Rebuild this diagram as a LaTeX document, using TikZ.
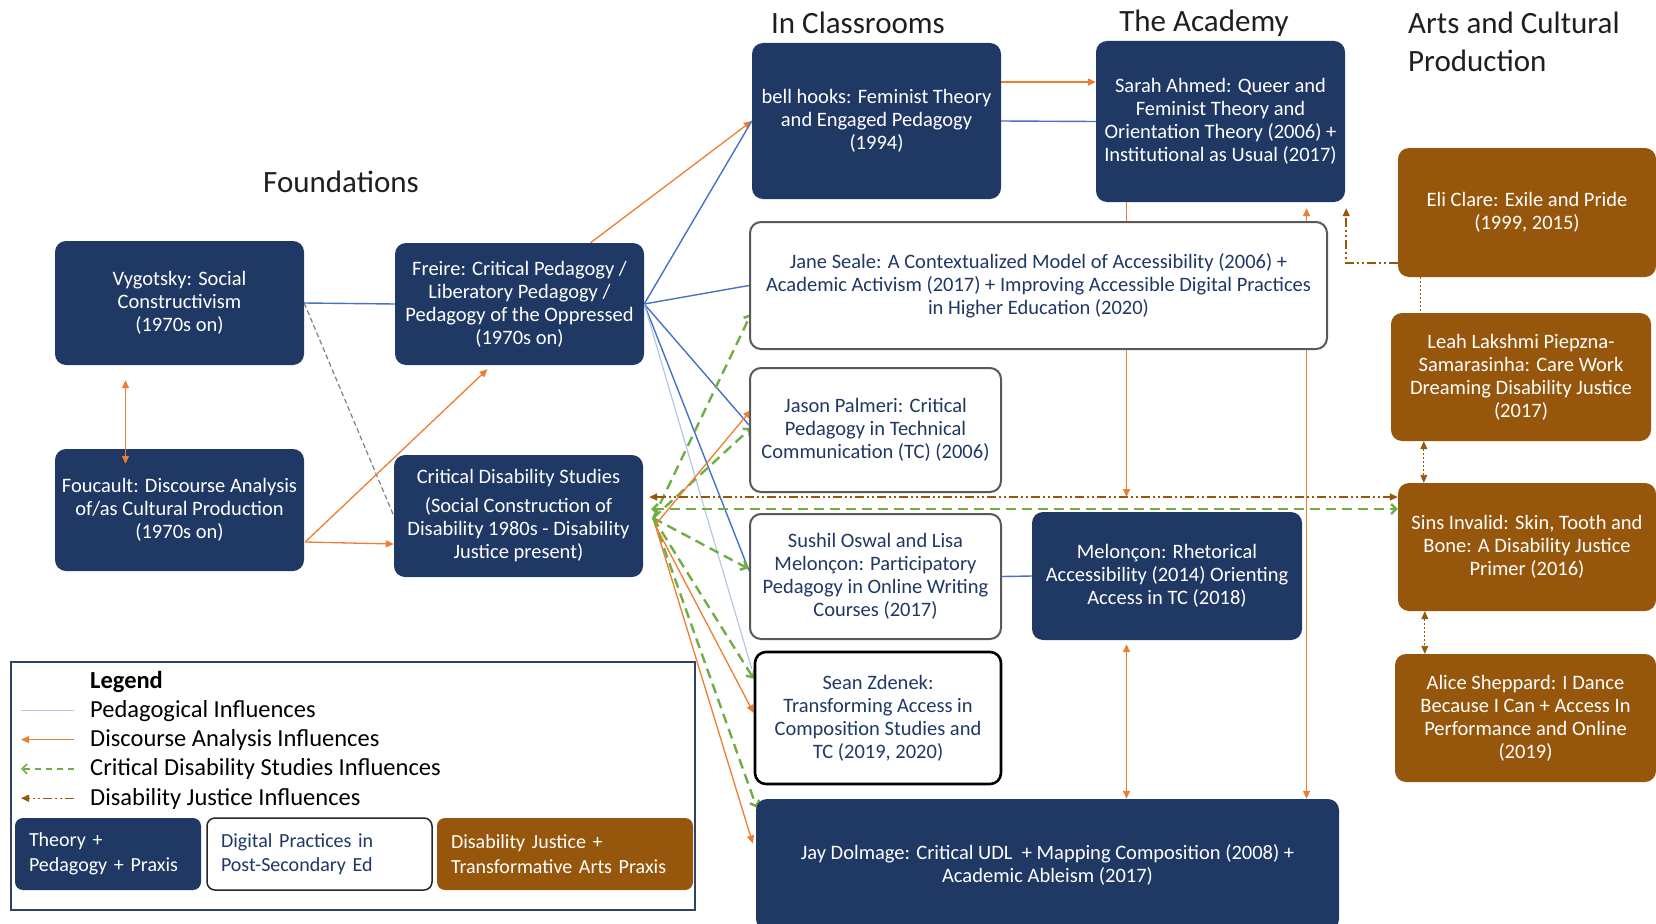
\documentclass[tikz,border=0pt]{standalone}
\usepackage{fontspec}
\setmainfont{Carlito}
\usetikzlibrary{calc, positioning, backgrounds}
\usetikzlibrary{arrows.meta}

\definecolor{theorynavy}{HTML}{1F3864}
\definecolor{justicebrown}{HTML}{96560C}
\definecolor{pedblue}{HTML}{4472C4}
\definecolor{pedlight}{HTML}{B4C7E7}
\definecolor{discorange}{HTML}{ED7D31}
\definecolor{cdsgreen}{HTML}{70AD47}
\definecolor{edgegray}{HTML}{595959}

\tikzstyle{field-box}=[
rectangle,
rounded corners=11pt,
align=center,
inner xsep=1pt,
inner ysep=2pt,
font=\fontsize{20.5}{23}\selectfont,
]
\tikzstyle{theory-box}=[field-box, fill=theorynavy, text=white]
\tikzstyle{digital-box}=[field-box, fill=white, draw=edgegray, line width=2pt, text=theorynavy]
\tikzstyle{justice-box}=[field-box, fill=justicebrown, text=white]
\tikzstyle{key-box}=[
rounded corners=8pt,
align=left,
inner xsep=14pt,
font=\fontsize{20}{24.5}\selectfont,
]
\tikzstyle{column-head}=[font=\fontsize{31}{38}\selectfont, text=black!88, inner sep=0pt]
\tikzstyle{legend-item}=[anchor=base west, font=\fontsize{24.5}{29}\selectfont, inner sep=0pt]
\tikzstyle{ped-link}=[pedblue, line width=1.4pt]
\tikzstyle{ped-faint}=[pedlight, line width=1.2pt]
\tikzstyle{gray-link}=[gray, line width=1.2pt, dash pattern=on 5pt off 3pt]
\tikzstyle{disc-link}=[discorange, line width=1.3pt, >={Triangle[length=8pt, width=7pt]}, ->]
\tikzstyle{cds-link}=[cdsgreen, line width=2.4pt, dash pattern=on 10pt off 6pt, >={Straight Barb[length=5pt, width=10pt]}, ->]
\tikzstyle{dj-link}=[justicebrown, line width=1.5pt, dash pattern=on 9pt off 3pt on 2pt off 3pt on 2pt off 3pt, >={Triangle[length=8pt, width=7pt]}, ->]
\tikzstyle{dj-thin}=[dj-link, line width=0.9pt, dash pattern=on 2pt off 2pt]
\tikzstyle{cds-key}=[cds-link, line width=1.6pt, dash pattern=on 6pt off 5pt]
\tikzstyle{dj-key}=[dj-link, line width=1.3pt]

\begin{document}
\begin{tikzpicture}[x=1pt, y=-1pt]
  \useasboundingbox (0,0) rectangle (1656,923);

  \newcommand{\fieldbox}[7]
  {
    \pgfmathsetmacro{\boxw}{#5-#3}
    \pgfmathsetmacro{\boxh}{#6-#4}
    \node[#2, minimum width=\boxw pt, minimum height=\boxh pt] (#1) at ({(#3+#5)/2}, {(#4+#6)/2}) {#7};
  }
  \newcommand{\keybox}[7]
  {
    \pgfmathsetmacro{\boxw}{#5-#3}
    \pgfmathsetmacro{\boxh}{#6-#4}
    \pgfmathsetmacro{\keyw}{#5-#3-28}
    \node[#2, key-box, minimum width=\boxw pt, minimum height=\boxh pt, text width=\keyw pt] (#1) at ({(#3+#5)/2}, {(#4+#6)/2}) {#7};
  }

  \node[column-head] (foundations) at (341,182) {Foundations};
  \node[column-head] (classrooms) at (858,23) {In Classrooms};
  \node[column-head] (academy) at (1204,23) {The Academy};
  \node[column-head, anchor=west, align=left] (arts) at (1408,42) {Arts and Cultural\\Production};

  % foundations
  \fieldbox{vygotsky}{theory-box}{55}{241}{304}{365}{Vygotsky: Social\\Constructivism\\(1970s on)}
  \fieldbox{foucault}{theory-box}{55}{449}{304}{571}{Foucault: Discourse Analysis\\of/as Cultural Production\\(1970s on)}
  \fieldbox{freire}{theory-box}{395}{243}{644}{365}{Freire: Critical Pedagogy /\\Liberatory Pedagogy /\\Pedagogy of the Oppressed\\(1970s on)}
  \fieldbox{cds}{theory-box}{394}{455}{643}{577}{Critical Disability Studies\\[6pt](Social Construction of\\Disability 1980s - Disability\\Justice present)}

  % classrooms and the academy
  \fieldbox{hooks}{theory-box}{752}{43}{1001}{199}{bell hooks: Feminist Theory\\and Engaged Pedagogy\\(1994)}
  \fieldbox{ahmed}{theory-box}{1096}{41}{1345}{202}{Sarah Ahmed: Queer and\\Feminist Theory and\\Orientation Theory (2006) +\\Institutional as Usual (2017)}
  \fieldbox{seale}{digital-box}{750}{222}{1327}{349}{Jane Seale: A Contextualized Model of Accessibility (2006) +\\Academic Activism (2017) + Improving Accessible Digital Practices\\in Higher Education (2020)}
  \fieldbox{palmeri}{digital-box}{750}{368}{1001}{492}{Jason Palmeri: Critical\\Pedagogy in Technical\\Communication (TC) (2006)}
  \fieldbox{oswal}{digital-box}{750}{514}{1001}{639}{Sushil Oswal and Lisa\\Melonçon: Participatory\\Pedagogy in Online Writing\\Courses (2017)}
  \fieldbox{zdenek}{digital-box, draw=black, line width=2.6pt}{755}{652}{1001}{784}{Sean Zdenek:\\Transforming Access in\\Composition Studies and\\TC (2019, 2020)}
  \fieldbox{meloncon}{theory-box}{1032}{512}{1302}{640}{Melonçon: Rhetorical\\Accessibility (2014) Orienting\\Access in TC (2018)}
  \fieldbox{dolmage}{theory-box}{756}{799}{1339}{930}{Jay Dolmage: Critical UDL\ \ + Mapping Composition (2008) +\\Academic Ableism (2017)}

  % arts and cultural production
  \fieldbox{eli}{justice-box}{1398}{148}{1656}{277}{Eli Clare: Exile and Pride\\(1999, 2015)}
  \fieldbox{leah}{justice-box}{1391}{313}{1651}{441}{Leah Lakshmi Piepzna-\\Samarasinha: Care Work\\Dreaming Disability Justice\\(2017)}
  \fieldbox{sins}{justice-box}{1398}{483}{1656}{611}{Sins Invalid: Skin, Tooth and\\Bone: A Disability Justice\\Primer (2016)}
  \fieldbox{alice}{justice-box}{1395}{654}{1656}{782}{Alice Sheppard: I Dance\\Because I Can + Access In\\Performance and Online\\(2019)}

  \begin{pgfonlayer}{background}
    \draw[ped-link] (vygotsky.east) -- (freire.west);
    \draw[gray-link] (vygotsky.east) -- (cds.west);
    \coordinate (foucout) at ($(foucault.east)+(1,32)$);
    \draw[disc-link] (foucout) -- ($(cds.west)+(0,28)$);
    \draw[disc-link] (foucout) -- ($(freire.south)+(-32,4)$);

    \draw[disc-link] ($(freire.north)+(71,0)$) -- (hooks.west);
    \draw[ped-link] (freire.east) -- (hooks.west);
    \draw[ped-link] (freire.east) -- (seale.west);
    \draw[ped-link] (freire.east) -- ($(palmeri.west)+(0,-5)$);
    \draw[ped-link] (freire.east) -- ($(oswal.west)+(0,-6)$);
    \draw[ped-faint] (freire.east) -- ($(zdenek.north west)+(-2,18)$);

    \coordinate (cdsgreen) at ($(cds.east)+(10,2)$);
    \coordinate (cdsorange) at ($(cds.east)+(12,9)$);
    \draw[cds-link] (cdsgreen) -- ($(seale.south west)+(2,-36)$);
    \draw[cds-link] (cdsgreen) -- ($(palmeri.west)+(2,-2)$);
    \draw[cds-link] (cdsgreen) -- ($(oswal.west)+(-1,-8)$);
    \draw[cds-link] (cdsgreen) -- ($(zdenek.north west)+(0,28)$);
    \draw[cds-link] (cdsgreen) -- ($(dolmage.north west)+(1,9)$);
    \draw[disc-link] (cdsorange) -- ($(palmeri.west)+(2,-20)$);
    \draw[disc-link] (cdsorange) -- ($(zdenek.west)+(0,-5)$);
    \draw[disc-link] (cdsorange) -- ($(dolmage.west)+(-3,-21)$);

    \coordinate (djleft) at ($(cds.east)+(6,-19)$);
    \coordinate (cdsleft) at ($(cds.east)+(8,-7)$);
    \draw[dj-link, <->] (djleft) -- (djleft -| sins.west);
    \draw[cds-link, <->] (cdsleft) -- (cdsleft -| sins.west);

    \draw[ped-link] (hooks.east) -- (ahmed.west);
    \draw[disc-link] ($(hooks.east)+(0,-39)$) -- ($(ahmed.west)+(0,-39.5)$);
    \draw[ped-link] (oswal.east) -- (meloncon.west);
    \coordinate (acadleft) at ($(ahmed.south)+(-94,0)$);
    \coordinate (acadright) at ($(ahmed.south)+(86,0)$);
    \draw[disc-link] (acadleft) -- (acadleft |- djleft);
    \draw[disc-link, <->, shorten <=4pt] (acadleft |- meloncon.south) -- (acadleft |- dolmage.north);
    \draw[disc-link, <->, shorten <=6pt] (acadright) -- (acadright |- dolmage.north);

    \draw[dj-link] ($(eli.south west)+(0,-14)$) -| ($(ahmed.south east)+(1,6)$);
    \draw[dj-thin, -] ($(eli.south west)+(23,0)$) -- ($(leah.north west)+(30,0)$);
    \draw[dj-thin, <->] ($(leah.south west)+(33,0)$) -- ($(sins.north west)+(26,0)$);
    \draw[dj-thin, <->] ($(sins.south west)+(27,0)$) -- ($(alice.north west)+(30,0)$);
  \end{pgfonlayer}

  \draw[disc-link, <->] ($(vygotsky.south)+(-54,15)$) -- ($(foucault.north)+(-54,15)$);

  % legend
  \draw[theorynavy!85!gray, line width=1.2pt] (11,662) rectangle (695,910);
  \node[legend-item, font=\fontsize{24.5}{29}\selectfont\bfseries] (legendhead) at (90,688) {Legend};
  \foreach \keystyle/\keytext [count=\k] in {ped-faint/Pedagogical Influences, disc-link/Discourse Analysis Influences, cds-key/Critical Disability Studies Influences, dj-key/Disability Justice Influences}
  {
    \node[legend-item] (key\k) at (90, {688+29.3*\k}) {\keytext};
    \coordinate (keytip\k) at ($(key\k.base west)+(-69,-7)$);
    \draw[\keystyle] ($(key\k.base west)+(-16,-7)$) -- (keytip\k);
  }
  \keybox{keytheory}{fill=theorynavy, text=white}{15}{818}{201}{890}{Theory +\\Pedagogy + Praxis}
  \keybox{keydigital}{fill=white, draw=black!85, line width=1.5pt, text=theorynavy}{207}{818}{432}{890}{Digital Practices in\\Post-Secondary Ed}
  \keybox{keyjustice}{fill=justicebrown, text=white}{437}{818}{693}{890}{Disability Justice +\\Transformative Arts Praxis}
\end{tikzpicture}
\end{document}
